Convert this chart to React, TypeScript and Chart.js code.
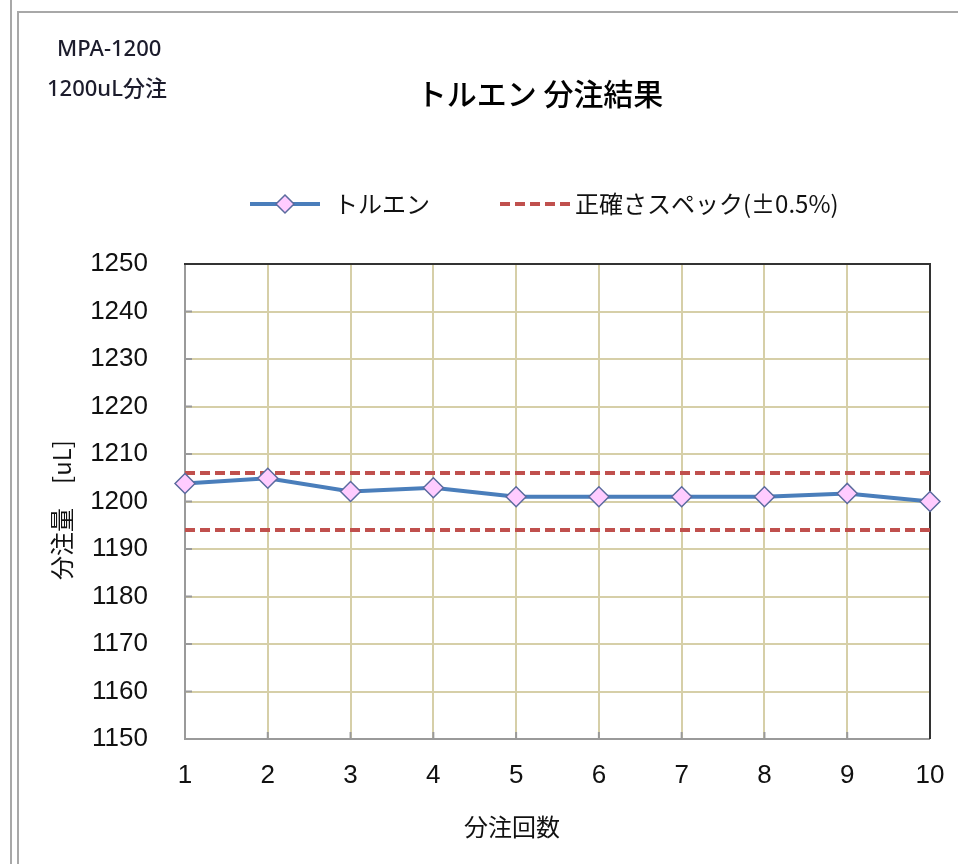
import { useEffect, useRef } from "react";
import { Chart, registerables } from "chart.js";

Chart.register(...registerables);

// Run numbers along the x axis
const runs = ["1", "2", "3", "4", "5", "6", "7", "8", "9", "10"];
// Dispensed toluene volume per run [uL]
const tolueneVolumes = [1203.8, 1204.9, 1202.1, 1202.9, 1201.0, 1201.0, 1201.0, 1201.0, 1201.7, 1200.0];
// Accuracy spec limits (1200 uL ±0.5%)
const specUpper = [1206, 1206, 1206, 1206, 1206, 1206, 1206, 1206, 1206, 1206];
const specLower = [1194, 1194, 1194, 1194, 1194, 1194, 1194, 1194, 1194, 1194];
// Y axis range and step
const yMin = 1150;
const yMax = 1250;
const yStep = 10;

const chartTitle = "トルエン 分注結果";
const modelLabel = "MPA-1200";
const volumeLabel = "1200uL分注";
const seriesName = "トルエン";
const specName = "正確さスペック(±0.5%)";
const xTitle = "分注回数";
const yTitle = "分注量　[uL]";

const NUM_FONT = "'Liberation Sans', Arial, sans-serif";
const JP_FONT = "'Noto Sans CJK JP', 'Noto Sans', sans-serif";
const LATIN_FONT = "'Noto Sans', 'Noto Sans CJK JP', sans-serif";

const BLUE = "#4a7ebb";
const RED = "#c0504d";
const PINK = "#ffccff";
const MARKER_EDGE = "#5b6b9e";
const GRID = "#d6cfa8";

function drawDiamond(ctx: CanvasRenderingContext2D, x: number, y: number, r: number) {
  ctx.beginPath();
  ctx.moveTo(x, y - r);
  ctx.lineTo(x + r, y);
  ctx.lineTo(x, y + r);
  ctx.lineTo(x - r, y);
  ctx.closePath();
  ctx.fillStyle = PINK;
  ctx.fill();
  ctx.lineWidth = 1.5;
  ctx.strokeStyle = MARKER_EDGE;
  ctx.stroke();
}

const decorPlugin = {
  id: "decor",
  beforeDraw(chart: any) {
    const ctx: CanvasRenderingContext2D = chart.ctx;
    ctx.save();
    ctx.fillStyle = "#ffffff";
    ctx.fillRect(0, 0, chart.width, chart.height);
    // sheet frame lines
    ctx.strokeStyle = "#a8a8a8";
    ctx.lineWidth = 2;
    ctx.beginPath();
    ctx.moveTo(11, 0);
    ctx.lineTo(11, chart.height);
    ctx.moveTo(18, 12);
    ctx.lineTo(18, chart.height);
    ctx.moveTo(17, 12);
    ctx.lineTo(chart.width, 12);
    ctx.stroke();
    ctx.restore();
  },
  beforeDatasetsDraw(chart: any) {
    const ctx: CanvasRenderingContext2D = chart.ctx;
    const { left, right, top, bottom } = chart.chartArea;
    const xs = chart.scales.x;
    const ys = chart.scales.y;
    ctx.save();
    // inward tick marks
    ctx.strokeStyle = "#9a9a9a";
    ctx.lineWidth = 2;
    ctx.beginPath();
    ys.ticks.forEach((_t: any, i: number) => {
      const y = ys.getPixelForTick(i);
      ctx.moveTo(left, y);
      ctx.lineTo(left + 7, y);
    });
    xs.ticks.forEach((_t: any, i: number) => {
      const x = xs.getPixelForTick(i);
      ctx.moveTo(x, bottom);
      ctx.lineTo(x, bottom - 7);
    });
    ctx.stroke();
    // left and bottom axis lines
    ctx.beginPath();
    ctx.moveTo(left, top);
    ctx.lineTo(left, bottom);
    ctx.lineTo(right, bottom);
    ctx.stroke();
    // top and right plot border
    ctx.strokeStyle = "#333333";
    ctx.beginPath();
    ctx.moveTo(left - 1, top);
    ctx.lineTo(right, top);
    ctx.lineTo(right, bottom);
    ctx.stroke();
    ctx.restore();
  },
  afterDraw(chart: any) {
    const ctx: CanvasRenderingContext2D = chart.ctx;
    ctx.save();
    ctx.textBaseline = "middle";

    // corner notes
    ctx.fillStyle = "#1c1c2c";
    ctx.textAlign = "left";
    ctx.font = `500 22px ${LATIN_FONT}`;
    ctx.fillText(modelLabel, 57, 50);
    ctx.fillText(volumeLabel, 47, 90);

    // chart title
    ctx.fillStyle = "#000000";
    ctx.textAlign = "center";
    ctx.font = `500 30px ${JP_FONT}`;
    ctx.fillText(chartTitle, 540, 94);

    // legend
    const ly = 204;
    ctx.strokeStyle = BLUE;
    ctx.lineWidth = 4;
    ctx.beginPath();
    ctx.moveTo(250, ly);
    ctx.lineTo(320, ly);
    ctx.stroke();
    drawDiamond(ctx, 285, ly, 9);
    ctx.fillStyle = "#111111";
    ctx.textAlign = "left";
    ctx.font = `24px ${JP_FONT}`;
    ctx.fillText(seriesName, 334, ly);

    ctx.strokeStyle = RED;
    ctx.lineWidth = 4;
    ctx.setLineDash([10, 5]);
    ctx.beginPath();
    ctx.moveTo(500, ly);
    ctx.lineTo(572, ly);
    ctx.stroke();
    ctx.setLineDash([]);
    ctx.fillText(specName, 575, ly);

    // axis titles
    ctx.textAlign = "center";
    ctx.font = `24px ${JP_FONT}`;
    ctx.fillText(xTitle, 512, 827);
    ctx.translate(62, 510);
    ctx.rotate(-Math.PI / 2);
    ctx.fillText(yTitle, 0, 0);
    ctx.restore();
  },
};

export default function App() {
  const canvasRef = useRef<HTMLCanvasElement | null>(null);

  useEffect(() => {
    const canvas = canvasRef.current;
    if (!canvas) return;
    const chart = new Chart(canvas, {
      type: "line",
      data: {
        labels: runs,
        datasets: [
          {
            label: seriesName,
            data: tolueneVolumes,
            borderColor: BLUE,
            borderWidth: 4,
            pointStyle: "rectRot",
            pointRadius: 10,
            pointBackgroundColor: PINK,
            pointBorderColor: MARKER_EDGE,
            pointBorderWidth: 1.5,
            tension: 0,
            clip: false,
          },
          {
            label: specName,
            data: specUpper,
            borderColor: RED,
            borderWidth: 4,
            borderDash: [10, 5],
            pointRadius: 0,
            tension: 0,
          },
          {
            label: specName,
            data: specLower,
            borderColor: RED,
            borderWidth: 4,
            borderDash: [10, 5],
            pointRadius: 0,
            tension: 0,
          },
        ],
      },
      options: {
        responsive: false,
        animation: false,
        devicePixelRatio: 1,
        layout: { padding: { left: 40, top: 264, right: 28, bottom: 64 } },
        plugins: {
          legend: { display: false },
          title: { display: false },
          tooltip: { enabled: false },
        },
        scales: {
          x: {
            type: "category",
            offset: false,
            grid: { color: GRID, lineWidth: 2, drawTicks: false },
            border: { display: false },
            ticks: {
              color: "#111111",
              font: { family: NUM_FONT, size: 26 },
              padding: 21,
              maxRotation: 0,
              autoSkip: false,
            },
            afterFit: (scale: any) => {
              scale.height = 61;
              scale.paddingLeft = 0;
              scale.paddingRight = 0;
            },
          },
          y: {
            min: yMin,
            max: yMax,
            grid: { color: GRID, lineWidth: 2, drawTicks: false },
            border: { display: false },
            ticks: {
              stepSize: yStep,
              color: "#111111",
              font: { family: NUM_FONT, size: 26 },
              padding: 37,
              callback: (value: any) => String(value),
            },
            afterFit: (scale: any) => {
              scale.width = 145;
              scale.paddingTop = 0;
              scale.paddingBottom = 0;
            },
          },
        },
      },
      plugins: [decorPlugin],
    });
    return () => chart.destroy();
  }, []);

  return (
    <div style={{ position: "absolute", left: 0, top: 0, width: 958, height: 864 }}>
      <canvas ref={canvasRef} width={958} height={864} style={{ display: "block" }} />
    </div>
  );
}
